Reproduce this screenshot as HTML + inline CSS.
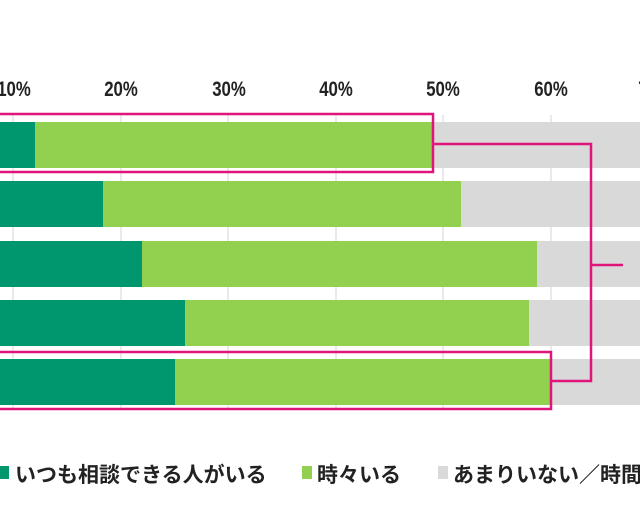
<!DOCTYPE html>
<html><head><meta charset="utf-8"><style>
html,body{margin:0;padding:0;background:#fff;width:640px;height:522px;overflow:hidden}
svg text{font-family:"Liberation Sans","Noto Sans CJK JP",sans-serif}
</style></head><body>
<svg width="640" height="522" viewBox="0 0 640 522" xmlns="http://www.w3.org/2000/svg">
<g stroke="#dddddd" stroke-width="1.2">
<line x1="13" y1="115" x2="13" y2="410"/><line x1="121" y1="115" x2="121" y2="410"/><line x1="228" y1="115" x2="228" y2="410"/><line x1="336" y1="115" x2="336" y2="410"/><line x1="443" y1="115" x2="443" y2="410"/><line x1="551" y1="115" x2="551" y2="410"/>
</g>
<g fill="#d9d9d9">
<rect x="0" y="122" width="640" height="46"/>
<rect x="0" y="181" width="640" height="46"/>
<rect x="0" y="241" width="640" height="46"/>
<rect x="0" y="300" width="640" height="46"/>
<rect x="0" y="359" width="640" height="46"/>
</g>
<g fill="#92d050">
<rect x="0" y="122" width="432" height="46"/>
<rect x="0" y="181" width="461" height="46"/>
<rect x="0" y="241" width="537" height="46"/>
<rect x="0" y="300" width="529" height="46"/>
<rect x="0" y="359" width="551" height="46"/>
</g>
<g fill="#00966e">
<rect x="0" y="122" width="35" height="46"/>
<rect x="0" y="181" width="103" height="46"/>
<rect x="0" y="241" width="142" height="46"/>
<rect x="0" y="300" width="185" height="46"/>
<rect x="0" y="359" width="175" height="46"/>
</g>
<g font-size="21" fill="#222" text-anchor="middle" font-weight="bold">
<text transform="translate(14,96) scale(0.8,1)">10%</text>
<text transform="translate(121,96) scale(0.8,1)">20%</text>
<text transform="translate(229,96) scale(0.8,1)">30%</text>
<text transform="translate(336,96) scale(0.8,1)">40%</text>
<text transform="translate(443,96) scale(0.8,1)">50%</text>
<text transform="translate(551,96) scale(0.8,1)">60%</text>
<text transform="translate(655,96) scale(0.8,1)">70%</text>
</g>
<g fill="none" stroke="#e0147a" stroke-width="2.5">
<rect x="-5" y="114" width="438" height="58"/>
<rect x="-5" y="352" width="556" height="57"/>
<polyline points="433,144 591,144 591,381 551,381"/>
<line x1="591" y1="265" x2="623" y2="265"/>
</g>
<g font-size="21" fill="#222" font-weight="bold">
<rect x="0" y="466" width="9" height="13" fill="#00966e"/>
<text x="15" y="482">いつも相談できる人がいる</text>
<rect x="302" y="466" width="10" height="13" fill="#92d050"/>
<text x="317" y="482">時々いる</text>
<rect x="438" y="466" width="10" height="13" fill="#d9d9d9"/>
<text x="453" y="482">あまりいない／時間</text>
</g>
</svg>
</body></html>
